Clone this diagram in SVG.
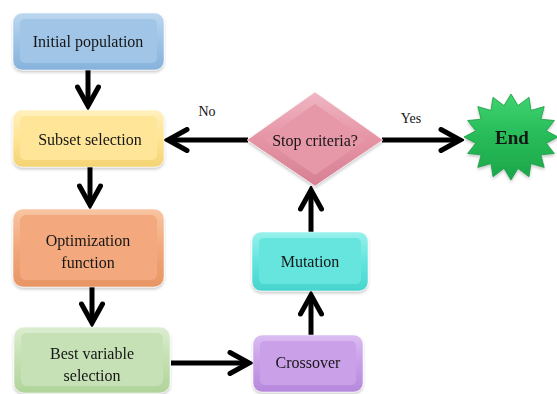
<svg xmlns="http://www.w3.org/2000/svg" width="557" height="394" viewBox="0 0 557 394">
  <style>
    .lbl { font-family: "Liberation Serif", "DejaVu Serif", serif; font-size: 16px; fill: #161616; text-anchor: middle; dominant-baseline: central; }
    .small { font-size: 14px; }
    .bold { font-weight: bold; font-size: 19px; }
    .conn { stroke: #000; stroke-width: 5; fill: none; }
    .rim { stroke: #ffffff; stroke-opacity: 0.5; stroke-width: 1; }
    .inner { stroke: none; }
  </style>
  <defs>
    <filter id="shadow" x="-10%" y="-10%" width="120%" height="130%">
      <feDropShadow dx="0" dy="2" stdDeviation="1.5" flood-color="#000" flood-opacity="0.22"/>
    </filter>
    <marker id="chev" markerUnits="userSpaceOnUse" viewBox="0 0 26 26" markerWidth="26" markerHeight="26" refX="22" refY="13" orient="auto">
      <path d="M3,2.5 L22,13 L3,23.5" fill="none" stroke="#000" stroke-width="5" stroke-linecap="round" stroke-linejoin="miter"/>
    </marker>
    <linearGradient id="gBlue" x1="0" y1="0" x2="0" y2="1"><stop offset="0" stop-color="#bcd7f0"/><stop offset="0.5" stop-color="#9dc3e6"/><stop offset="1" stop-color="#86b2dc"/></linearGradient>
    <linearGradient id="gYellow" x1="0" y1="0" x2="0" y2="1"><stop offset="0" stop-color="#fff0bd"/><stop offset="0.5" stop-color="#ffe493"/><stop offset="1" stop-color="#f3d374"/></linearGradient>
    <linearGradient id="gOrange" x1="0" y1="0" x2="0" y2="1"><stop offset="0" stop-color="#f8c5a2"/><stop offset="0.5" stop-color="#f2a77a"/><stop offset="1" stop-color="#e89564"/></linearGradient>
    <linearGradient id="gGreen" x1="0" y1="0" x2="0" y2="1"><stop offset="0" stop-color="#dcedd0"/><stop offset="0.5" stop-color="#c4e0b2"/><stop offset="1" stop-color="#b0d49a"/></linearGradient>
    <linearGradient id="gCyan" x1="0" y1="0" x2="0" y2="1"><stop offset="0" stop-color="#98f1ec"/><stop offset="0.5" stop-color="#62e4de"/><stop offset="1" stop-color="#48d4ce"/></linearGradient>
    <linearGradient id="gPurple" x1="0" y1="0" x2="0" y2="1"><stop offset="0" stop-color="#dbbdf1"/><stop offset="0.5" stop-color="#c89de8"/><stop offset="1" stop-color="#b789dd"/></linearGradient>
    <linearGradient id="gPink" x1="0" y1="0" x2="0" y2="1"><stop offset="0" stop-color="#f0b6c3"/><stop offset="0.5" stop-color="#e594a5"/><stop offset="1" stop-color="#d68094"/></linearGradient>
    <linearGradient id="gStar" x1="0" y1="0" x2="0" y2="1"><stop offset="0" stop-color="#3fd470"/><stop offset="0.5" stop-color="#27bb58"/><stop offset="1" stop-color="#1ca64a"/></linearGradient>
  </defs>

  <rect width="557" height="394" fill="#ffffff"/>

  <!-- connectors -->
  <g id="connectors">
    <line class="conn" x1="88" y1="70" x2="88" y2="106" marker-end="url(#chev)"/>
    <line class="conn" x1="90" y1="167" x2="90" y2="205" marker-end="url(#chev)"/>
    <line class="conn" x1="92" y1="287" x2="92" y2="323" marker-end="url(#chev)"/>
    <line class="conn" x1="171" y1="363" x2="249" y2="363" marker-end="url(#chev)"/>
    <line class="conn" x1="311" y1="335" x2="311" y2="295" marker-end="url(#chev)"/>
    <line class="conn" x1="311" y1="232" x2="311" y2="190" marker-end="url(#chev)"/>
    <line class="conn" x1="248" y1="140" x2="168" y2="140" marker-end="url(#chev)"/>
    <line class="conn" x1="382" y1="140" x2="460" y2="140" marker-end="url(#chev)"/>
    <text class="lbl small" x="207" y="111">No</text>
    <text class="lbl small" x="411" y="118">Yes</text>
  </g>

  <!-- process nodes -->
  <g id="initial-population" filter="url(#shadow)">
    <rect x="13" y="13" width="151" height="57" rx="9" fill="url(#gBlue)" class="rim"/>
    <rect x="20" y="19" width="137" height="44" rx="5" fill="#a0c5e7" class="inner"/>
    <text class="lbl" x="88" y="41">Initial population</text>
  </g>

  <g id="subset-selection" filter="url(#shadow)">
    <rect x="13" y="110" width="151" height="57" rx="9" fill="url(#gYellow)" class="rim"/>
    <rect x="20" y="116" width="137" height="44" rx="5" fill="#ffe597" class="inner"/>
    <text class="lbl" x="90" y="139">Subset selection</text>
  </g>

  <g id="optimization-function" filter="url(#shadow)">
    <rect x="13" y="209" width="151" height="78" rx="10" fill="url(#gOrange)" class="rim"/>
    <rect x="20" y="215" width="137" height="65" rx="6" fill="#f3a97d" class="inner"/>
    <text class="lbl" x="88" y="240">Optimization</text>
    <text class="lbl" x="88" y="262">function</text>
  </g>

  <g id="best-variable-selection" filter="url(#shadow)">
    <rect x="14" y="327" width="156" height="66" rx="10" fill="url(#gGreen)" class="rim"/>
    <rect x="21" y="333" width="142" height="53" rx="6" fill="#c6e1b5" class="inner"/>
    <text class="lbl" x="92" y="353">Best variable</text>
    <text class="lbl" x="92" y="375">selection</text>
  </g>

  <g id="crossover" filter="url(#shadow)">
    <rect x="253" y="335" width="110" height="57" rx="9" fill="url(#gPurple)" class="rim"/>
    <rect x="260" y="341" width="96" height="44" rx="5" fill="#caa0e9" class="inner"/>
    <text class="lbl" x="308" y="362">Crossover</text>
  </g>

  <g id="mutation" filter="url(#shadow)">
    <rect x="252" y="232" width="116" height="59" rx="9" fill="url(#gCyan)" class="rim"/>
    <rect x="259" y="238" width="102" height="46" rx="5" fill="#66e5df" class="inner"/>
    <text class="lbl" x="310" y="261">Mutation</text>
  </g>

  <!-- decision -->
  <g id="stop-criteria" filter="url(#shadow)">
    <polygon points="315,92 383,140 315,186 247,140" fill="url(#gPink)" class="rim"/>
    <polygon points="315,104 366,140 315,175 264,140" fill="#e697a8" class="inner"/>
    <text class="lbl" x="315" y="140">Stop criteria?</text>
  </g>

  <!-- terminal -->
  <g id="end" filter="url(#shadow)">
    <polygon fill="url(#gStar)" stroke="#1a9a45" stroke-width="0.8" points="511,94 518,105.6 529,97.3 531,110.4 544.2,106.6 540.9,119.2 554.4,120.5 546.3,130.8 558,137 546.3,143.2 554.4,153.5 540.9,154.8 544.2,167.4 531,163.6 529,176.7 518,168.4 511,180 504,168.4 493,176.7 491,163.6 477.8,167.4 481.1,154.8 467.6,153.5 475.7,143.2 464,137 475.7,130.8 467.6,120.5 481.1,119.2 477.8,106.6 491,110.4 493,97.3 504,105.6"/>
    <text class="lbl bold" x="512" y="137">End</text>
  </g>
</svg>
